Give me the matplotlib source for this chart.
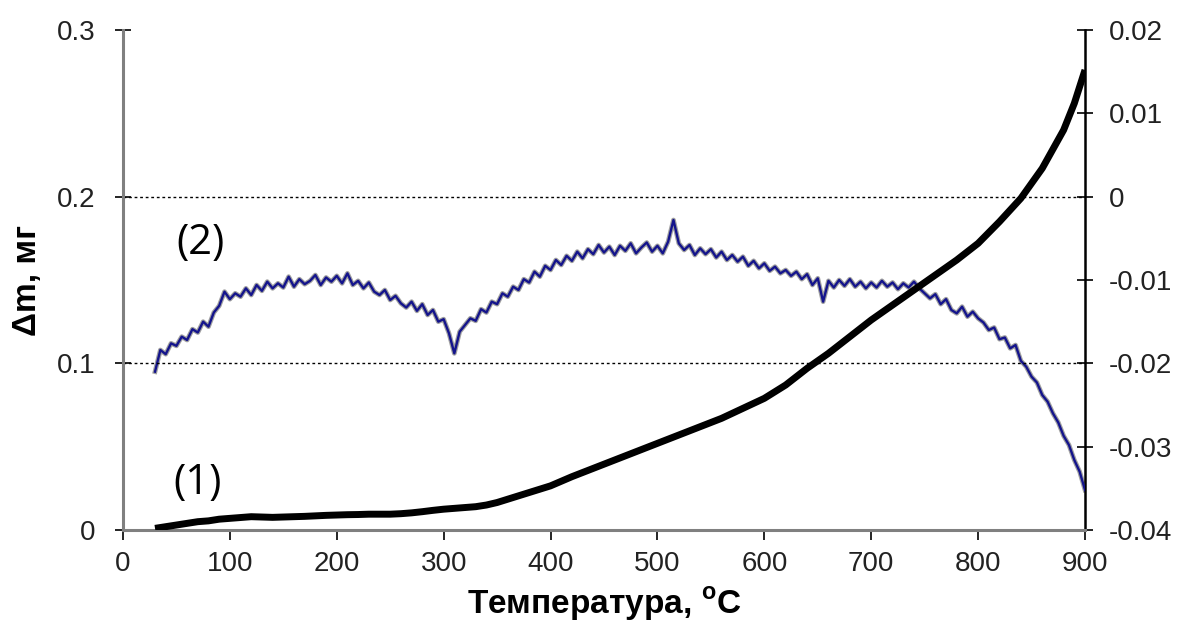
import matplotlib
matplotlib.use("Agg")
import matplotlib.pyplot as plt
import numpy as np

plt.rcParams['font.family'] = ['Liberation Sans', 'DejaVu Sans']
plt.rcParams['mathtext.fontset'] = 'custom'
plt.rcParams['mathtext.rm'] = 'Liberation Sans'
plt.rcParams['mathtext.bf'] = 'Liberation Sans:bold'

# ---- data ----
# curve (2): derivative, right axis, every 5 °C from 30 to 900 (units of 1e-3)
t2 = list(range(30, 901, 5))
dm2_milli = [
    -21.0, -18.4, -18.9, -17.6, -17.9, -16.8, -17.2, -15.9, -16.3, -15.0,
    -15.6, -13.9, -13.1, -11.4, -12.3, -11.6, -12.0, -11.0, -11.8, -10.6,
    -11.3, -10.2, -11.0, -10.4, -10.9, -9.6, -10.8, -9.9, -10.5, -10.1,
    -9.4, -10.6, -9.7, -10.2, -9.5, -10.4, -9.2, -10.6, -10.1, -11.0,
    -10.3, -11.4, -11.8, -11.2, -12.4, -11.9, -12.8, -13.3, -12.6, -13.7,
    -12.9, -14.2, -13.6, -15.0, -14.7, -16.4, -18.8, -16.2, -15.4, -14.6,
    -14.9, -13.5, -13.9, -12.6, -12.9, -11.6, -12.0, -10.8, -11.2, -9.9,
    -10.3, -9.0, -9.6, -8.3, -8.8, -7.6, -8.2, -7.1, -7.7, -6.6,
    -7.4, -6.3, -6.9, -5.8, -6.7, -6.0, -7.0, -5.9, -6.5, -5.6,
    -6.8, -6.1, -5.5, -6.6, -5.9, -6.8, -5.4, -2.8, -5.6, -6.4,
    -5.8, -7.0, -6.2, -6.9, -6.3, -7.3, -6.6, -7.6, -7.0, -7.8,
    -7.2, -8.3, -7.7, -8.6, -8.0, -8.9, -8.4, -9.2, -8.8, -9.5,
    -9.0, -9.9, -9.3, -10.6, -9.8, -12.6, -10.1, -10.9, -10.0, -10.7,
    -9.9, -10.8, -10.2, -11.0, -10.3, -10.9, -10.1, -10.8, -10.3, -11.1,
    -10.4, -10.9, -10.2, -11.0, -11.6, -12.2, -11.7, -12.9, -12.3, -13.6,
    -14.0, -13.2, -14.4, -13.8, -14.6, -15.1, -16.0, -15.7, -17.1, -16.9,
    -18.2, -17.8, -19.7, -20.4, -21.6, -22.3, -23.8, -24.6, -26.0, -27.1,
    -28.7, -29.8, -31.6, -33.0, -35.2,
]
dm2 = np.array(dm2_milli) / 1000.0

# curve (1): mass change, left axis
t1 = [30, 40, 50, 60, 70, 80, 90, 100, 110, 120, 130, 140, 150, 160, 170,
      180, 190, 200, 210, 220, 230, 240, 250, 260, 270, 280, 290, 300, 310,
      320, 330, 340, 350, 360, 370, 380, 390, 400, 420, 440, 460, 480, 500,
      520, 540, 560, 580, 600, 620, 640, 660, 680, 700, 720, 740, 760, 780,
      800, 820, 840, 860, 880, 890, 900]
dm1 = [0.001, 0.002, 0.003, 0.004, 0.005, 0.0055, 0.0065, 0.007, 0.0075,
       0.008, 0.0078, 0.0076, 0.0078, 0.008, 0.0082, 0.0085, 0.0088, 0.009,
       0.0092, 0.0093, 0.0095, 0.0095, 0.0095, 0.0098, 0.0103, 0.011, 0.0118,
       0.0125, 0.013, 0.0135, 0.014, 0.015, 0.0165, 0.0185, 0.0205, 0.0225,
       0.0245, 0.0265, 0.032, 0.037, 0.042, 0.047, 0.052, 0.057, 0.062,
       0.067, 0.073, 0.079, 0.087, 0.097, 0.106, 0.116, 0.126, 0.135, 0.144,
       0.153, 0.162, 0.172, 0.185, 0.199, 0.217, 0.240, 0.256, 0.276]

xticks = [0, 100, 200, 300, 400, 500, 600, 700, 800, 900]
yticks_left = [0, 0.1, 0.2, 0.3]
ytick_labels_left = ['0', '0.1', '0.2', '0.3']
yticks_right = [-0.04, -0.03, -0.02, -0.01, 0, 0.01, 0.02]
ytick_labels_right = ['-0.04', '-0.03', '-0.02', '-0.01', '0', '0.01', '0.02']

fig = plt.figure(figsize=(11.8, 6.34), dpi=100)
ax = fig.add_axes([0.1042, 0.164, 0.8153, 0.7887])
ax2 = ax.twinx()

# grid lines
for g in [0.1, 0.2]:
    ax.axhline(g, color='black', lw=1.0, ls=(0, (2, 2)), zorder=1)

ax2.plot(t2, dm2, color='#a0a0a0', lw=3.4, zorder=2)
ax2.plot(t2, dm2, color='#14148c', lw=1.7, zorder=3)
ax.plot(t1, dm1, color='black', lw=5, zorder=4, solid_capstyle='butt')

ax.set_zorder(ax2.get_zorder() + 1)
ax.patch.set_visible(False)

ax.set_xlim(0, 900)
ax.set_ylim(0, 0.3)
ax2.set_ylim(-0.04, 0.02)

ax.set_xticks(xticks)
ax.set_xticklabels([str(v) for v in xticks])
ax.set_yticks(yticks_left)
ax.set_yticklabels(ytick_labels_left)
ax2.set_yticks(yticks_right)
ax2.set_yticklabels(ytick_labels_right)

for a in (ax, ax2):
    a.spines['top'].set_visible(False)
ax.spines['left'].set_color('#808080')
ax.spines['left'].set_linewidth(2.2)
ax.spines['bottom'].set_color('#808080')
ax.spines['bottom'].set_linewidth(2.2)
ax.spines['right'].set_visible(False)
ax2.spines['left'].set_visible(False)
ax2.spines['bottom'].set_visible(False)
ax2.spines['right'].set_color('black')
ax2.spines['right'].set_linewidth(1.8)

ax.tick_params(axis='x', direction='out', length=7, width=1.2, color='black',
               labelsize=20, pad=8, labelcolor='#222222')
ax.tick_params(axis='y', direction='inout', length=12, width=1.2, color='black',
               labelsize=20, pad=14, labelcolor='#222222')
ax2.tick_params(axis='y', direction='inout', length=12, width=1.2, color='black',
                labelsize=20, pad=11, labelcolor='#222222')

ax.set_xlabel(r'Температура, $^{\mathbf{o}}$C', fontsize=24, fontweight='bold',
              labelpad=6)
ax.set_ylabel('Δm, мг', fontsize=24, fontweight='bold', labelpad=10)

ax.text(73, 0.1722, '(2)', fontsize=30, ha='center', va='center',
        family=['Open Sans', 'DejaVu Sans'])
ax.text(70, 0.0282, '(1)', fontsize=30, ha='center', va='center',
        family=['Open Sans', 'DejaVu Sans'])

fig.savefig('out.png', dpi=100)
